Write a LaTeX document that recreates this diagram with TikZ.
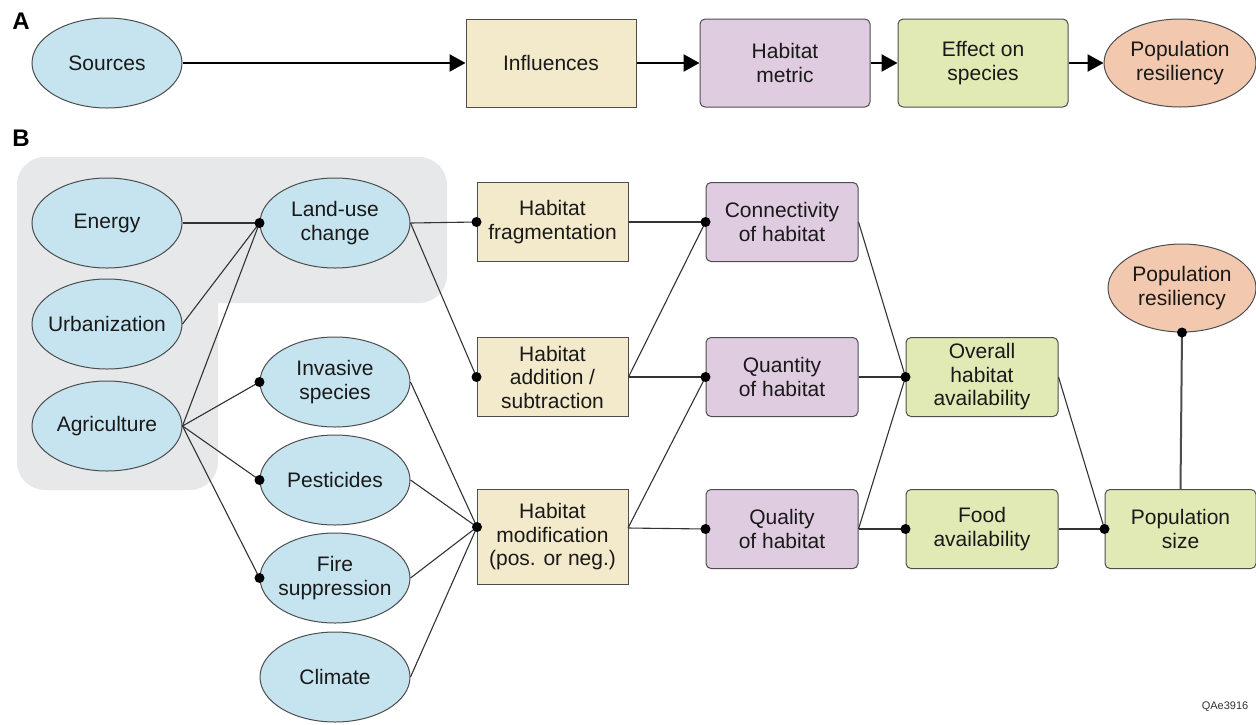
\documentclass[tikz,border=0pt]{standalone}
\usepackage{fontspec}
\setmainfont{Liberation Sans}
\usetikzlibrary{shapes.geometric,arrows.meta}
\definecolor{cblue}{HTML}{C6E4EF}
\definecolor{ctan}{HTML}{F3EACB}
\definecolor{cpurple}{HTML}{E0CCE0}
\definecolor{cgreen}{HTML}{E1EAB5}
\definecolor{corange}{HTML}{F2C9AF}
\definecolor{cgrey}{HTML}{E7E8EA}
\definecolor{cborder}{HTML}{4D4D4D}
\definecolor{cline}{HTML}{333333}
\tikzset{
  txt/.style={align=center, inner sep=0pt, font=\fontsize{21}{23.5}\selectfont, text=black!90},
  base/.style={draw=cborder, line width=1pt, inner sep=0pt, txt},
  oval/.style={draw=cborder, line width=1pt, ellipse, fill=cblue, inner sep=0pt, minimum width=150pt, minimum height=90pt},
  ovalO/.style={oval, fill=corange, minimum height=88pt},
  otext/.style={txt},
  tanbox/.style={base, rectangle, fill=ctan, minimum width=151pt, minimum height=79pt},
  purbox/.style={base, rectangle, rounded corners=5pt, fill=cpurple, minimum width=152pt, minimum height=79pt},
  grnbox/.style={base, rectangle, rounded corners=5pt, fill=cgreen, minimum width=152pt, minimum height=79pt},
  bigbox/.style={minimum width=170pt, minimum height=88pt},
  conn/.style={draw=cline, line width=1.1pt},
  arr/.style={draw=black, line width=2.5pt, -{Triangle[length=16pt,width=17pt]}},
  dot/.style={circle, fill=black, inner sep=0pt, minimum size=10pt},
  panel/.style={font=\fontsize{24}{26}\selectfont\bfseries},
}
\begin{document}
\begin{tikzpicture}[x=1pt,y=-1pt]
\useasboundingbox (0,0) rectangle (1256,724);
% grey background region
\fill[cgrey, rounded corners=28pt] (17,157) rectangle (447,303);
\fill[cgrey, rounded corners=28pt] (17,157) rectangle (218,490);

% panel labels
\node[panel] (lA) at (21,21) {A};
\node[panel] (lB) at (21,138) {B};

% ---------- Panel A ----------
\node[oval, label={[otext]center:Sources}] (srcA) at (107,63) {};
\node[tanbox, bigbox] (infA) at (551,63) {Influences};
\node[purbox, bigbox] (habA) at (785,63) {Habitat\\metric};
\node[grnbox, bigbox] (effA) at (983,63) {Effect on\\species};
\node[ovalO, minimum width=152pt, label={[otext]center:{Population\\resiliency}}] (popA) at (1180,63) {};
\draw[arr] (srcA.east) -- (infA.west);
\draw[arr] (infA.east) -- (habA.west);
\draw[arr] (habA.east) -- (effA.west);
\draw[arr] (effA.east) -- (popA.west);

% ---------- Panel B ----------
\node[oval, label={[otext]center:Energy}] (energy) at (107,223) {};
\node[oval, label={[otext]center:Urbanization}] (urban) at (107,324) {};
\node[oval, label={[otext]center:Agriculture}] (agri) at (107,426) {};
\node[oval, label={[otext]center:{Land-use\\change}}] (landuse) at (335,223) {};
\node[oval, label={[otext]center:{Invasive\\species}}] (invasive) at (335,382) {};
\node[oval, label={[otext]center:Pesticides}] (pest) at (335,480) {};
\node[oval, label={[otext]center:{Fire\\suppression}}] (fire) at (335,578) {};
\node[oval, label={[otext]center:Climate}] (climate) at (335,677) {};

\node[tanbox] (frag) at (552.5,222) {Habitat\\fragmentation};
\node[tanbox] (addsub) at (552.5,377) {Habitat\\addition /\\subtraction};
\node[tanbox, minimum height=95pt] (modif) at (552.5,537) {Habitat\\modification\\(pos. or neg.)};

\node[purbox] (conn) at (782,222) {Connectivity\\of habitat};
\node[purbox] (quant) at (782,377) {Quantity\\of habitat};
\node[purbox] (qual) at (782,529) {Quality\\of habitat};

\node[grnbox] (overall) at (982,377) {Overall\\habitat\\availability};
\node[grnbox] (food) at (982,529) {Food\\availability};
\node[grnbox, minimum width=151pt] (popsize) at (1180.5,529) {Population\\size};
\node[ovalO, minimum width=148pt, label={[otext]center:{Population\\resiliency}}] (popres) at (1182,288) {};

\coordinate (moddot) at (477,527);
\coordinate (modright) at (628,528);

% connectors
\draw[conn] (energy.east) -- (landuse.west);
\draw[conn] (urban.east) -- (landuse.west);
\draw[conn] (agri.east) -- (landuse.west);
\draw[conn] (agri.east) -- (invasive.west);
\draw[conn] (agri.east) -- (pest.west);
\draw[conn] (agri.east) -- (fire.west);

\draw[conn] (landuse.east) -- (frag.west);
\draw[conn] (landuse.east) -- (addsub.west);
\draw[conn] (invasive.east) -- (moddot);
\draw[conn] (pest.east) -- (moddot);
\draw[conn] (fire.east) -- (moddot);
\draw[conn] (climate.east) -- (moddot);

\draw[conn] (frag.east) -- (conn.west);
\draw[conn] (addsub.east) -- (conn.west);
\draw[conn] (addsub.east) -- (quant.west);
\draw[conn] (modright) -- (quant.west);
\draw[conn] (modright) -- (qual.west);

\draw[conn] (conn.east) -- (overall.west);
\draw[conn] (quant.east) -- (overall.west);
\draw[conn] (qual.east) -- (overall.west);
\draw[conn] (qual.east) -- (food.west);

\draw[conn] (overall.east) -- (popsize.west);
\draw[conn] (food.east) -- (popsize.west);
\draw[draw=cborder, line width=2pt] (popsize.north) -- (popres.south);

% dots
\node[dot] (d1) at (landuse.west) {};
\node[dot] (d2) at (invasive.west) {};
\node[dot] (d3) at (pest.west) {};
\node[dot] (d4) at (fire.west) {};
\node[dot] (d5) at (frag.west) {};
\node[dot] (d6) at (addsub.west) {};
\node[dot] (d7) at (moddot) {};
\node[dot] (d8) at (conn.west) {};
\node[dot] (d9) at (quant.west) {};
\node[dot] (d10) at (qual.west) {};
\node[dot] (d11) at (overall.west) {};
\node[dot] (d12) at (food.west) {};
\node[dot] (d13) at (popsize.west) {};
\node[dot] (d14) at (popres.south) {};

\node[font=\fontsize{11}{13}\selectfont, text=black!80] (code) at (1225,707) {QAe3916};
\end{tikzpicture}
\end{document}
